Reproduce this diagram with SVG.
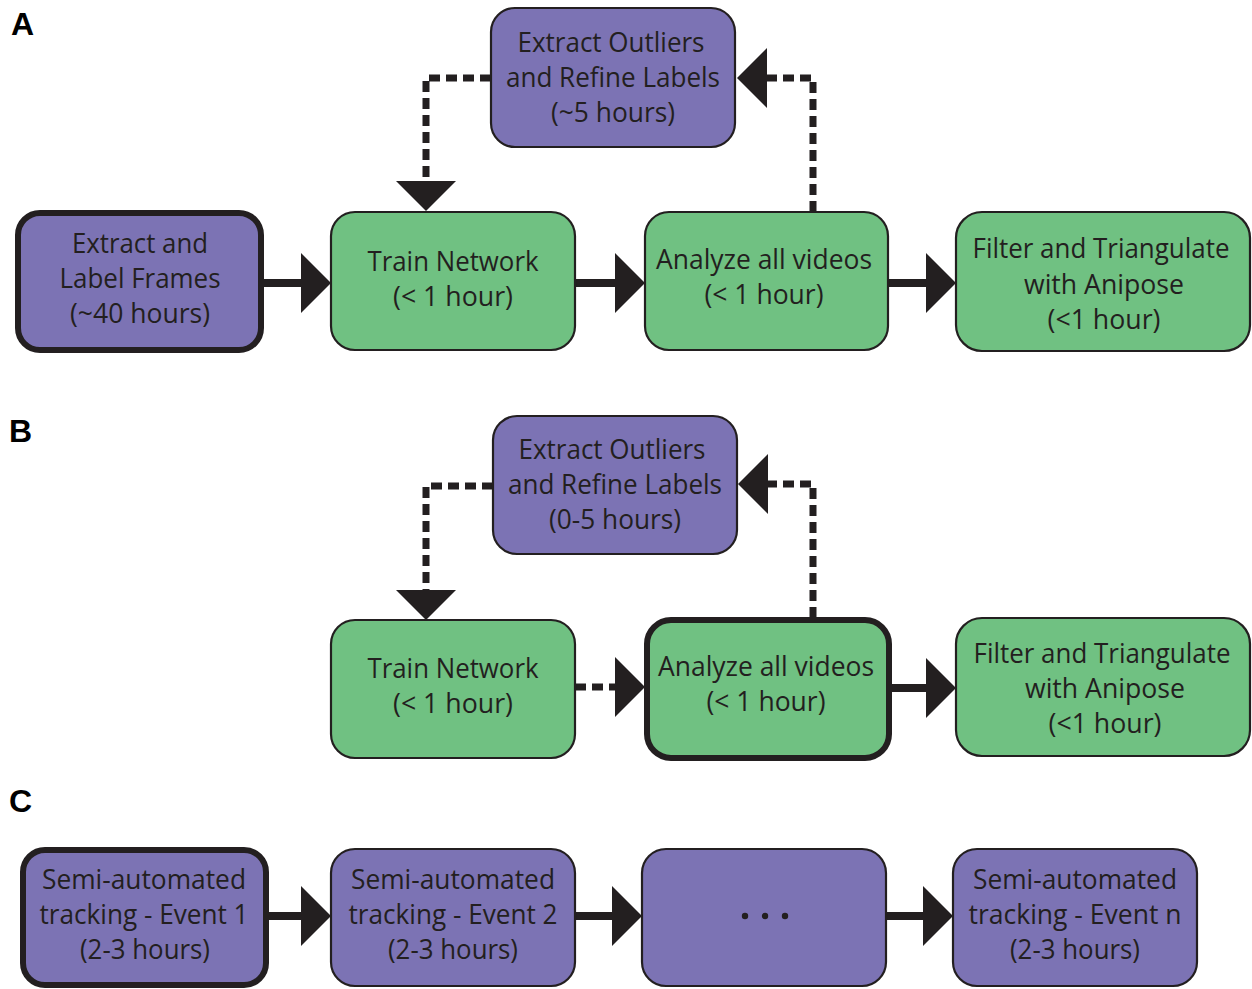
<svg xmlns="http://www.w3.org/2000/svg" width="1252" height="989" viewBox="0 0 1252 989">
<style>
.purple{fill:#7C73B4;stroke:#231F20;stroke-width:2.2}
.green{fill:#70C182;stroke:#231F20;stroke-width:2.2}
.thick{stroke-width:6}
.t{font-family:"Open Sans","Noto Sans","Liberation Sans",sans-serif;font-size:28px;fill:#231F20;text-anchor:middle}
.lbl{font-family:"Liberation Sans",Arial,sans-serif;font-weight:bold;font-size:32px;fill:#000}
.solid{fill:none;stroke:#231F20;stroke-width:8;marker-end:url(#ah)}
.dash{fill:none;stroke:#231F20;stroke-width:7;stroke-dasharray:11 6;marker-end:url(#ah)}
</style>
<defs>
<marker id="ah" viewBox="0 0 30 60" refX="15" refY="30" markerWidth="30" markerHeight="60" markerUnits="userSpaceOnUse" orient="auto">
<path d="M0,0 L30,30 L0,60 Z" fill="#231F20"/>
</marker>
</defs>
<text class="lbl" x="11" y="35">A</text>
<text class="lbl" x="9" y="442">B</text>
<text class="lbl" x="9" y="812">C</text>
<g id="connectors">
<path class="solid" d="M262,283 H316"/>
<path class="solid" d="M575,283 H630"/>
<path class="solid" d="M888,283 H941"/>
<path class="dash" d="M491,78 H426 V196"/>
<path class="dash" d="M813,212 V78 H752"/>
<path class="dash" d="M575,687 H630"/>
<path class="solid" d="M889,688 H941"/>
<path class="dash" d="M493,486 H426 V605"/>
<path class="dash" d="M813,618 V484 H753"/>
<path class="solid" d="M266,916 H316"/>
<path class="solid" d="M575,916 H627"/>
<path class="solid" d="M886,916 H938"/>
</g>
<g id="a-extract-label">
<rect class="purple thick" x="18" y="213" width="243" height="137" rx="22"/>
<text class="t" x="140" y="253" textLength="136" lengthAdjust="spacingAndGlyphs">Extract and</text>
<text class="t" x="140" y="288" textLength="161" lengthAdjust="spacingAndGlyphs">Label Frames</text>
<text class="t" x="140" y="323" textLength="140" lengthAdjust="spacingAndGlyphs">(~40 hours)</text>
</g>
<g id="a-outliers">
<rect class="purple" x="491" y="8" width="244" height="139" rx="24"/>
<text class="t" x="611" y="52" textLength="187" lengthAdjust="spacingAndGlyphs">Extract Outliers</text>
<text class="t" x="613" y="87" textLength="214" lengthAdjust="spacingAndGlyphs">and Refine Labels</text>
<text class="t" x="613" y="122" textLength="124" lengthAdjust="spacingAndGlyphs">(~5 hours)</text>
</g>
<g id="a-train">
<rect class="green" x="331" y="212" width="244" height="138" rx="24"/>
<text class="t" x="453" y="271" textLength="171" lengthAdjust="spacingAndGlyphs">Train Network</text>
<text class="t" x="453" y="306" textLength="120" lengthAdjust="spacingAndGlyphs">(&lt; 1 hour)</text>
</g>
<g id="a-analyze">
<rect class="green" x="645" y="212" width="243" height="138" rx="24"/>
<text class="t" x="764" y="269" textLength="216" lengthAdjust="spacingAndGlyphs">Analyze all videos</text>
<text class="t" x="764" y="304" textLength="119" lengthAdjust="spacingAndGlyphs">(&lt; 1 hour)</text>
</g>
<g id="a-filter">
<rect class="green" x="956" y="212" width="294" height="139" rx="26"/>
<text class="t" x="1101" y="258" textLength="257" lengthAdjust="spacingAndGlyphs">Filter and Triangulate</text>
<text class="t" x="1104" y="294" textLength="160" lengthAdjust="spacingAndGlyphs">with Anipose</text>
<text class="t" x="1104" y="329" textLength="113" lengthAdjust="spacingAndGlyphs">(&lt;1 hour)</text>
</g>
<g id="b-outliers">
<rect class="purple" x="493" y="416" width="244" height="138" rx="24"/>
<text class="t" x="612" y="459" textLength="187" lengthAdjust="spacingAndGlyphs">Extract Outliers</text>
<text class="t" x="615" y="494" textLength="214" lengthAdjust="spacingAndGlyphs">and Refine Labels</text>
<text class="t" x="615" y="529" textLength="132" lengthAdjust="spacingAndGlyphs">(0-5 hours)</text>
</g>
<g id="b-train">
<rect class="green" x="331" y="620" width="244" height="138" rx="24"/>
<text class="t" x="453" y="678" textLength="171" lengthAdjust="spacingAndGlyphs">Train Network</text>
<text class="t" x="453" y="713" textLength="120" lengthAdjust="spacingAndGlyphs">(&lt; 1 hour)</text>
</g>
<g id="b-analyze">
<rect class="green thick" x="647" y="620" width="242" height="138" rx="24"/>
<text class="t" x="766" y="676" textLength="216" lengthAdjust="spacingAndGlyphs">Analyze all videos</text>
<text class="t" x="766" y="711" textLength="119" lengthAdjust="spacingAndGlyphs">(&lt; 1 hour)</text>
</g>
<g id="b-filter">
<rect class="green" x="956" y="618" width="294" height="138" rx="26"/>
<text class="t" x="1102" y="663" textLength="257" lengthAdjust="spacingAndGlyphs">Filter and Triangulate</text>
<text class="t" x="1105" y="698" textLength="160" lengthAdjust="spacingAndGlyphs">with Anipose</text>
<text class="t" x="1105" y="733" textLength="113" lengthAdjust="spacingAndGlyphs">(&lt;1 hour)</text>
</g>
<g id="c-event1">
<rect class="purple thick" x="23" y="850" width="243" height="135" rx="22"/>
<text class="t" x="144" y="889" textLength="204" lengthAdjust="spacingAndGlyphs">Semi-automated</text>
<text class="t" x="144" y="924" textLength="209" lengthAdjust="spacingAndGlyphs">tracking - Event 1</text>
<text class="t" x="145" y="959" textLength="130" lengthAdjust="spacingAndGlyphs">(2-3 hours)</text>
</g>
<g id="c-event2">
<rect class="purple" x="331" y="849" width="244" height="137" rx="24"/>
<text class="t" x="453" y="889" textLength="204" lengthAdjust="spacingAndGlyphs">Semi-automated</text>
<text class="t" x="453" y="924" textLength="209" lengthAdjust="spacingAndGlyphs">tracking - Event 2</text>
<text class="t" x="453" y="959" textLength="130" lengthAdjust="spacingAndGlyphs">(2-3 hours)</text>
</g>
<g id="c-dots">
<rect class="purple" x="642" y="849" width="244" height="137" rx="24"/>
<circle cx="745" cy="916" r="3.2" fill="#231F20"/>
<circle cx="765" cy="916" r="3.2" fill="#231F20"/>
<circle cx="785" cy="916" r="3.2" fill="#231F20"/>
</g>
<g id="c-eventn">
<rect class="purple" x="953" y="849" width="244" height="137" rx="24"/>
<text class="t" x="1075" y="889" textLength="204" lengthAdjust="spacingAndGlyphs">Semi-automated</text>
<text class="t" x="1075" y="924" textLength="213" lengthAdjust="spacingAndGlyphs">tracking - Event n</text>
<text class="t" x="1075" y="959" textLength="130" lengthAdjust="spacingAndGlyphs">(2-3 hours)</text>
</g>
</svg>
